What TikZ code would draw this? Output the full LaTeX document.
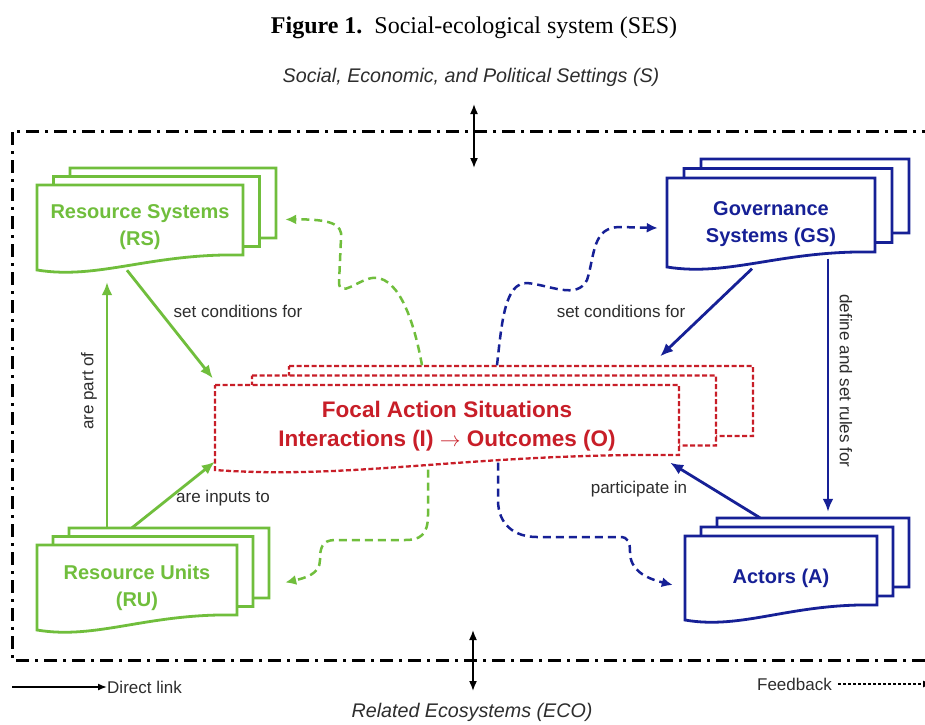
\documentclass[tikz,border=0pt]{standalone}
\usepackage{fontspec}
\setmainfont{Liberation Sans}
\newfontfamily\capfont{Liberation Serif}
\usetikzlibrary{arrows.meta}

\definecolor{rsgreen}{RGB}{112,190,60}
\definecolor{gsblue}{RGB}{22,32,150}
\definecolor{asred}{RGB}{200,30,40}
\definecolor{linkgray}{RGB}{45,45,45}

% one sheet: x, y (top left), width, height, style
\newcommand{\sheet}[5]{%
  \draw[#5] (#1,#2) -- ({#1+#3},#2) -- ({#1+#3},{#2+#4-15})
    .. controls ({#1+0.55*#3},{#2+#4-17}) and ({#1+0.3*#3},{#2+#4+10}) .. (#1,{#2+#4}) -- cycle;}
% three sheets: x, y, width, height, dx, dy, style
\newcommand{\docstack}[7]{%
  \foreach \k in {2,1,0}{\sheet{#1+\k*#5}{#2-\k*#6}{#3}{#4}{#7}}}

\begin{document}
\begin{tikzpicture}[x=1pt,y=-1pt,
    resource/.style={draw=rsgreen,line width=2.8pt,fill=white},
    govern/.style={draw=gsblue,line width=2.8pt,fill=white},
    focal/.style={draw=asred,line width=2.3pt,fill=white,dash pattern=on 5pt off 2.5pt},
    boxtext/.style={font=\fontsize{20}{27}\selectfont\bfseries,align=center,inner sep=0pt},
    linktext/.style={font=\fontsize{17}{20}\selectfont,text=linkgray,inner sep=0pt},
    settext/.style={font=\fontsize{19.7}{22}\selectfont\itshape,text=linkgray,inner sep=0pt},
    directlink/.style={line width=2.8pt,-{Latex[length=13pt,width=11pt]}},
    feedbacklink/.style={line width=2.5pt,dash pattern=on 8pt off 5pt,-{Latex[length=11pt,width=10pt]}}]

    \useasboundingbox[fill=white] (0,0) rectangle (925,724);

    \node (title) at (474,28) {\capfont\fontsize{24}{28}\selectfont\textbf{Figure 1.}\ \ Social-ecological system (SES)};
    \node[settext] (set) at (471,77) {Social, Economic, and Political Settings (S)};
    \node[settext] (eco) at (472,712) {Related Ecosystems (ECO)};

    \draw[line width=3pt,dash pattern=on 13pt off 6pt on 3pt off 6pt] (935,131) -- (12,131) -- (12,660) -- (935,660);

    \coordinate (sin) at (474,104);
    \coordinate (sout) at (474,168);
    \coordinate (ein) at (473,630);
    \coordinate (eout) at (473,691);
    \draw[line width=1.6pt,{Latex[length=10pt,width=8pt]}-{Latex[length=10pt,width=8pt]}] (sin) -- (sout);
    \draw[line width=1.6pt,{Latex[length=10pt,width=8pt]}-{Latex[length=10pt,width=8pt]}] (ein) -- (eout);

    \docstack{37}{185}{206}{85}{16.5}{8.5}{resource}
    \docstack{37}{545}{200}{85}{16}{8.5}{resource}
    \docstack{667}{178}{208}{89}{17}{9.5}{govern}
    \docstack{685}{536}{192}{84}{16}{9}{govern}
    \docstack{215}{385}{464}{85}{37}{9.5}{focal}

    \node[boxtext,text=rsgreen,minimum width=206pt,minimum height=85pt] (rs) at (140,227.5) {Resource Systems\\(RS)};
    \node[boxtext,text=rsgreen,minimum width=200pt,minimum height=85pt] (ru) at (137,587.5) {Resource Units\\(RU)};
    \node[boxtext,text=gsblue,minimum width=208pt,minimum height=89pt] (gs) at (771,224) {Governance\\Systems (GS)};
    \node[boxtext,text=gsblue,minimum width=192pt,minimum height=84pt] (act) at (781,578) {Actors (A)};
    \node[boxtext,text=asred,font=\fontsize{22.5}{29}\selectfont\bfseries,minimum width=464pt,minimum height=85pt] (fas) at (447,426) {Focal Action Situations\\Interactions (I) $\rightarrow$ Outcomes (O)};

    \draw[directlink,rsgreen] ([xshift=-13pt]rs.south) -- ([xshift=-2pt,yshift=5pt]fas.north west);
    \draw[directlink,rsgreen,shorten >=12pt] ([xshift=-30pt,yshift=17pt]ru.north) -- ([xshift=-33pt]rs.south);
    \draw[directlink,rsgreen] ([xshift=-5pt,yshift=17pt]ru.north) -- ([yshift=7pt]fas.south west);
    \draw[directlink,gsblue] ([xshift=-19pt]gs.south) -- ([xshift=-19pt,yshift=27pt]fas.north east);
    \draw[directlink,gsblue] ([xshift=57pt,yshift=10pt]gs.south) -- ([xshift=47pt,yshift=24pt]act.north);
    \draw[directlink,gsblue] ([xshift=-21pt,yshift=18pt]act.north) -- ([xshift=-9pt,yshift=6pt]fas.south east);

    \node[linktext] (rsfas) at (238,311) {set conditions for};
    \node[linktext,rotate=90] (rurs) at (89,391) {are part of};
    \node[linktext] (rufas) at (223,498) {are inputs to};
    \node[linktext] (gsfas) at (621,311) {set conditions for};
    \node[linktext,rotate=-90] (gsact) at (846,381) {define and set rules for};
    \node[linktext] (actfas) at (639,489) {participate in};

    \draw[feedbacklink,rsgreen] ([xshift=-25pt,yshift=18pt]fas.north) .. controls (412,310) and (395,275) .. (372,278)
        .. controls (358,280) and (340,298) .. (339,283) -- (341,238) .. controls (343,224) and (330,219) .. ([xshift=42pt,yshift=8pt]rs.east);
    \draw[feedbacklink,gsblue] ([xshift=50pt,yshift=18pt]fas.north) .. controls (502,320) and (505,283) .. (527,283)
        .. controls (550,285) and (577,300) .. (587,280) .. controls (595,255) and (592,227) .. (620,227) -- ([xshift=-9pt,yshift=-4pt]gs.west);
    \draw[feedbacklink,rsgreen] ([xshift=-19pt,yshift=-1pt]fas.south) -- (428,515) .. controls (428,535) and (420,540) .. (405,540)
        -- (335,540) .. controls (322,540) and (320,548) .. (320,560) .. controls (320,574) and (305,578) .. ([xshift=48pt,yshift=5pt]ru.east);
    \draw[feedbacklink,gsblue] ([xshift=51pt,yshift=6pt]fas.south) -- (498,500) .. controls (498,525) and (515,537) .. (537,537)
        -- (620,537) .. controls (628,537) and (630,542) .. (630,552) .. controls (630,570) and (645,578) .. ([xshift=-12pt,yshift=-7pt]act.west);

    \coordinate (dlstart) at (12,687);
    \node[linktext,anchor=west] (dl) at (107,687) {Direct link};
    \draw[line width=1.5pt,-{Latex[length=9pt,width=7pt]}] (dlstart) -- (dl.west);
    \node[linktext,anchor=east] (fb) at (832,684) {Feedback};
    \coordinate (fbend) at (932,684);
    \draw[line width=1.2pt,dash pattern=on 3pt off 2pt,-{Latex[length=9pt,width=7pt]}] ([xshift=6pt]fb.east) -- (fbend);

\end{tikzpicture}
\end{document}
